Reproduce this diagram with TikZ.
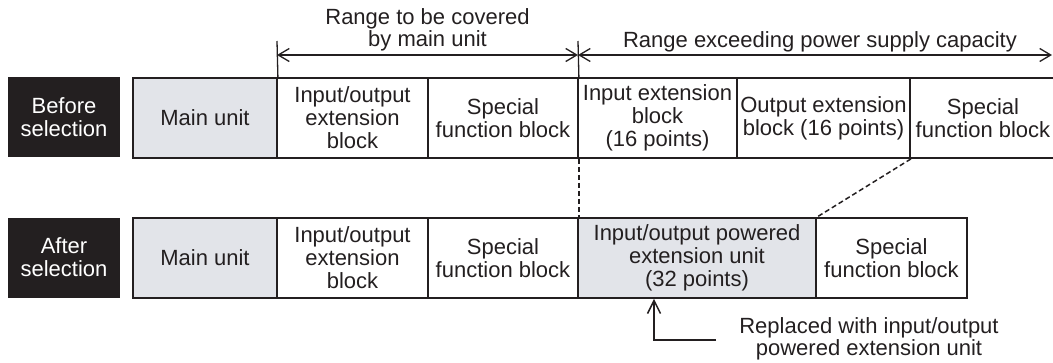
\documentclass[tikz,border=0pt]{standalone}
\usepackage{fontspec}
\setmainfont{Liberation Sans}
\usetikzlibrary{arrows.meta}
\definecolor{ink}{RGB}{35,31,32}
\definecolor{unitgray}{RGB}{226,228,233}
\begin{document}
\begin{tikzpicture}[x=1pt,y=-1pt,
  txt/.style={font=\fontsize{22}{23}\selectfont, text=ink, align=center, inner sep=0pt},
  box/.style={txt, draw=ink, line width=1.8pt, minimum height=80pt},
  graybox/.style={box, fill=unitgray},
  tag/.style={txt, fill=ink, text=white, minimum width=112pt, minimum height=80pt},
  lbl/.style={txt, font=\fontsize{22}{22}\selectfont},
  dim/.style={draw=ink, line width=1.3pt},
  dimarrow/.style={dim, {Straight Barb[length=11pt,width=13pt]}-{Straight Barb[length=11pt,width=13pt]}},
  conn/.style={draw=ink, line width=1.5pt, dash pattern=on 5pt off 3pt},
  callout/.style={draw=ink, line width=1.5pt, -{Straight Barb[length=13pt,width=13pt]}}
]
\useasboundingbox (0,0) rectangle (1053,362);

% top row
\node[tag] (before) at (64,117) {Before\\selection};
\node[graybox, minimum width=144pt] (m1) at (205,118) {Main unit};
\node[box, minimum width=151pt] (io1) at (352.5,118) {Input/output\\extension\\block};
\node[box, minimum width=150pt] (sp1) at (503,118) {Special\\function block};
\node[box, minimum width=159pt] (in1) at (657.5,118) {Input extension\\block\\(16 points)};
\node[box, minimum width=173pt] (out1) at (823.5,118) {Output extension\\block (16 points)};
\node[box, minimum width=146pt] (sp1b) at (983,118) {Special\\function block};

% bottom row
\node[tag] (after) at (64,257.5) {After\\selection};
\node[graybox, minimum width=144pt] (m2) at (205,258) {Main unit};
\node[box, minimum width=151pt] (io2) at (352.5,258) {Input/output\\extension\\block};
\node[box, minimum width=150pt] (sp2) at (503,258) {Special\\function block};
\node[graybox, minimum width=238pt] (pw) at (697,258) {Input/output powered\\extension unit\\(32 points)};
\node[box, minimum width=151pt] (sp3) at (891.5,258) {Special\\function block};

% dimension lines
\coordinate (t1) at (277,41);
\coordinate (t2) at (578,41);
\coordinate (a1) at (277,55);
\coordinate (a2) at (578,55);
\coordinate (a3) at (1052,55);
\draw[dim] (t1) -- (m1.north east);
\draw[dim] (t2) -- (sp1.north east);
\draw[dimarrow] (a1) -- (a2);
\draw[dimarrow] (a2) -- (a3);
\node[lbl] (rng1) at (427.5,30.3) {Range to be covered\\by main unit};
\node[lbl, anchor=base] (rng2) at (820,47) {Range exceeding power supply capacity};

% dashed connectors
\draw[conn] (sp1.south east) -- (sp2.north east);
\draw[conn] (out1.south east) -- (pw.north east);

% callout
\coordinate (r1) at (716,340);
\draw[callout] (r1) -| ([xshift=-43pt]pw.south);
\node[lbl] (repl) at (869,338.8) {Replaced with input/output\\powered extension unit};
\end{tikzpicture}
\end{document}
